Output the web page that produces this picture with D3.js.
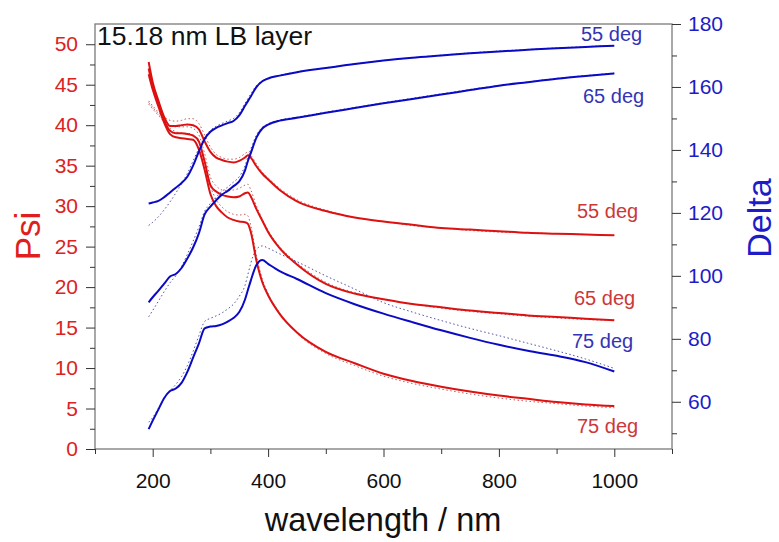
<!DOCTYPE html>
<html>

<head>
  <title>15.18 nm LB layer</title>
  <script type="text/javascript" src="https://cdn.jsdelivr.net/npm/d3@7"></script>
  <style>
    body {
      margin: 0;
      background-color: white;
    }
    text {
      font-family: "Liberation Sans", Arial, sans-serif;
    }
  </style>
</head>

<body>
  <script type="text/javascript">

    // wavelength in nm (shared by all curves)
    const wavelength = [193, 200, 210, 220, 230, 240, 250, 260, 270, 280, 290, 300, 310, 320, 330, 340, 350, 360, 365, 370,
      380, 390, 400, 420, 450, 500, 550, 600, 650, 700, 750, 800, 850, 900, 950, 1000];

    // measured Psi (deg)
    const psi55 = [47.8, 45.3, 43.0, 41.0, 39.9, 39.9, 40.0, 40.1, 40.0, 39.5, 38.0, 36.7, 36.0, 35.7, 35.5, 35.4, 35.6, 36.0, 36.3, 36.0,
      34.9, 34.0, 33.3, 32.0, 30.6, 29.4, 28.6, 28.1, 27.7, 27.3, 27.1, 26.9, 26.7, 26.6, 26.5, 26.4];
    const psi65 = [47.0, 44.8, 42.6, 40.6, 39.3, 39.0, 39.0, 38.9, 38.7, 38.0, 35.5, 32.6, 31.8, 31.4, 31.2, 31.1, 31.2, 31.6, 31.7, 31.2,
      29.6, 28.2, 26.8, 24.8, 22.8, 20.4, 19.2, 18.5, 17.9, 17.5, 17.1, 16.8, 16.5, 16.3, 16.1, 15.9];
    const psi75 = [46.3, 44.4, 42.3, 40.3, 38.9, 38.5, 38.4, 38.3, 38.2, 37.0, 34.5, 31.5, 30.0, 29.2, 28.6, 28.3, 28.1, 28.0, 27.8, 26.8,
      23.2, 20.6, 19.0, 16.7, 14.4, 12.0, 10.6, 9.3, 8.4, 7.7, 7.1, 6.6, 6.2, 5.8, 5.5, 5.3];

    // measured Delta (deg)
    const delta55 = [123.0, 123.3, 123.8, 125.0, 126.5, 128.0, 129.5, 131.5, 135.0, 139.5, 143.5, 145.8, 147.0, 147.8, 148.5, 149.2, 151.0, 154.0, 155.5, 157.0,
      160.0, 161.8, 162.7, 163.6, 164.7, 166.0, 167.3, 168.4, 169.3, 170.0, 170.7, 171.3, 171.8, 172.3, 172.7, 173.1];
    const delta65 = [91.6, 93.2, 95.3, 97.5, 99.8, 100.6, 102.5, 105.5, 109.0, 113.5, 119.5, 122.0, 124.0, 125.8, 127.0, 128.5, 130.0, 133.5, 136.5, 139.0,
      144.0, 146.8, 148.0, 149.3, 150.2, 151.8, 153.3, 154.8, 156.2, 157.6, 159.0, 160.4, 161.5, 162.6, 163.5, 164.3];
    const delta75 = [51.3, 54.0, 57.6, 61.2, 63.4, 64.2, 66.0, 69.5, 74.0, 78.5, 83.3, 83.9, 84.1, 84.6, 85.5, 86.6, 88.5, 92.5, 95.5, 98.5,
      103.5, 105.0, 103.8, 101.5, 99.0, 94.5, 91.0, 88.0, 85.3, 82.7, 80.3, 78.1, 76.2, 74.6, 72.6, 69.6];

    // model fits (dotted)
    const psi55Fit = [43.0, 42.4, 41.6, 41.0, 40.6, 40.5, 40.6, 40.8, 40.8, 40.2, 38.8, 37.3, 36.4, 36.0, 35.8, 35.8, 36.0, 36.5, 36.7, 36.3,
      35.2, 34.2, 33.5, 32.2, 30.8, 29.5, 28.6, 28.1, 27.6, 27.3, 27.0, 26.8, 26.7, 26.6, 26.5, 26.4];
    const psi65Fit = [42.8, 42.2, 41.4, 40.6, 40.0, 39.8, 39.8, 39.8, 39.6, 38.8, 36.5, 33.6, 32.5, 32.0, 31.9, 32.0, 32.2, 32.6, 32.7, 32.0,
      30.0, 28.4, 27.0, 25.0, 23.0, 20.6, 19.3, 18.5, 17.9, 17.4, 17.0, 16.7, 16.4, 16.2, 16.0, 15.9];
    const psi75Fit = [42.6, 42.0, 41.2, 40.4, 39.6, 39.2, 39.0, 39.0, 38.8, 37.8, 35.5, 32.5, 30.8, 29.9, 29.3, 29.0, 28.9, 29.0, 28.8, 27.6,
      23.8, 21.0, 19.2, 16.8, 14.3, 11.8, 10.3, 9.0, 8.1, 7.4, 6.8, 6.3, 5.9, 5.6, 5.3, 5.1];
    const delta55Fit = [116.0, 117.0, 118.8, 121.0, 123.5, 126.3, 129.3, 132.5, 136.5, 140.5, 144.0, 146.2, 147.5, 148.4, 149.2, 150.0, 151.8, 154.8, 156.3, 157.8,
      160.5, 162.0, 162.8, 163.7, 164.8, 166.1, 167.3, 168.4, 169.3, 170.1, 170.8, 171.4, 171.9, 172.4, 172.8, 173.2];
    const delta65Fit = [87.0, 89.0, 92.0, 95.0, 97.8, 100.0, 103.0, 106.8, 111.0, 115.5, 120.5, 123.0, 125.0, 126.8, 128.2, 129.8, 131.5, 135.0, 137.8, 140.3,
      144.8, 147.2, 148.3, 149.5, 150.4, 152.0, 153.5, 155.0, 156.4, 157.8, 159.2, 160.5, 161.6, 162.7, 163.6, 164.4];
    const delta75Fit = [53.5, 55.0, 58.0, 61.0, 63.5, 65.5, 68.0, 71.5, 76.0, 81.0, 85.5, 86.5, 87.3, 88.2, 89.5, 91.0, 93.5, 97.0, 100.5, 104.0,
      108.5, 109.5, 108.8, 107.0, 104.5, 100.0, 95.8, 91.5, 88.5, 85.8, 83.3, 81.0, 78.6, 76.2, 73.6, 70.6];

    // tick values
    const xTicks = [200, 400, 600, 800, 1000];
    const xMinor = [100, 300, 500, 700, 900, 1100];
    const psiTicks = [0, 5, 10, 15, 20, 25, 30, 35, 40, 45, 50];
    const psiMinor = [2.5, 7.5, 12.5, 17.5, 22.5, 27.5, 32.5, 37.5, 42.5, 47.5];
    const deltaTicks = [60, 80, 100, 120, 140, 160, 180];
    const deltaMinor = [50, 70, 90, 110, 130, 150, 170];

    const red = "#dd1111";
    const blue = "#0a0ac4";

    const w = 779;
    const h = 542;
    const plotL = 95, plotR = 672, plotT = 24, plotB = 449;

    const xScale = d3.scaleLinear().domain([100, 1100]).range([plotL, plotR]);
    const yPsi = d3.scaleLinear().domain([0, 52.5]).range([plotB, plotT]);
    const yDelta = d3.scaleLinear().domain([45, 180]).range([plotB, plotT]);

    const svg = d3.select("body")
      .append("svg")
      .attr("width", w)
      .attr("height", h)
      .style("background", "white");

    // frame
    svg.append("rect")
      .attr("x", plotL)
      .attr("y", plotT)
      .attr("width", plotR - plotL)
      .attr("height", plotB - plotT)
      .attr("fill", "none")
      .attr("stroke", "#7a7a7a")
      .attr("stroke-width", 1.3);

    // axes
    function styleAxis(g, color) {
      g.select(".domain").remove();
      g.selectAll(".tick line").attr("stroke", "#333");
      g.selectAll("text")
        .attr("fill", color)
        .style("font-size", "21px");
    }

    svg.append("g")
      .attr("transform", "translate(" + plotL + ",0)")
      .call(d3.axisLeft(yPsi).tickValues(psiTicks).tickSize(9).tickPadding(8))
      .call(styleAxis, "#dd2222");
    svg.append("g")
      .attr("transform", "translate(" + plotL + ",0)")
      .call(d3.axisLeft(yPsi).tickValues(psiMinor).tickSize(5).tickFormat(""))
      .call(styleAxis, "#dd2222");

    svg.append("g")
      .attr("transform", "translate(" + plotR + ",0)")
      .call(d3.axisRight(yDelta).tickValues(deltaTicks).tickSize(9).tickPadding(7))
      .call(styleAxis, "#1c1cc8");
    svg.append("g")
      .attr("transform", "translate(" + plotR + ",0)")
      .call(d3.axisRight(yDelta).tickValues(deltaMinor).tickSize(5).tickFormat(""))
      .call(styleAxis, "#1c1cc8");

    svg.append("g")
      .attr("transform", "translate(0," + plotB + ")")
      .call(d3.axisBottom(xScale).tickValues(xTicks).tickFormat(d3.format("d")).tickSize(8).tickPadding(16))
      .call(styleAxis, "#111");
    svg.append("g")
      .attr("transform", "translate(0," + plotB + ")")
      .call(d3.axisBottom(xScale).tickValues(xMinor).tickSize(5).tickFormat(""))
      .call(styleAxis, "#111");

    // curves
    function lineFor(yScale) {
      return d3.line()
        .x(function (d, i) { return xScale(wavelength[i]); })
        .y(function (d) { return yScale(d); })
        .curve(d3.curveMonotoneX);
    }

    const fits = [
      { values: psi55Fit, scale: yPsi, color: "#c45a5a" },
      { values: psi65Fit, scale: yPsi, color: "#c45a5a" },
      { values: psi75Fit, scale: yPsi, color: "#c45a5a" },
      { values: delta55Fit, scale: yDelta, color: "#5050a8" },
      { values: delta65Fit, scale: yDelta, color: "#5050a8" },
      { values: delta75Fit, scale: yDelta, color: "#5050a8" }
    ];
    const measured = [
      { values: psi55, scale: yPsi, color: red },
      { values: psi65, scale: yPsi, color: red },
      { values: psi75, scale: yPsi, color: red },
      { values: delta55, scale: yDelta, color: blue },
      { values: delta65, scale: yDelta, color: blue },
      { values: delta75, scale: yDelta, color: blue }
    ];

    svg.selectAll("path.fit")
      .data(fits)
      .enter()
      .append("path")
      .attr("class", "fit")
      .attr("d", function (d) { return lineFor(d.scale)(d.values); })
      .attr("fill", "none")
      .attr("stroke", function (d) { return d.color; })
      .attr("stroke-width", 1)
      .attr("stroke-dasharray", "1.5,2.5");

    svg.selectAll("path.meas")
      .data(measured)
      .enter()
      .append("path")
      .attr("class", "meas")
      .attr("d", function (d) { return lineFor(d.scale)(d.values); })
      .attr("fill", "none")
      .attr("stroke", function (d) { return d.color; })
      .attr("stroke-width", 2);

    // angle labels
    const labels = [
      { text: "55 deg", x: 581, y: 41, color: "#3434b4" },
      { text: "65 deg", x: 583, y: 103, color: "#3434b4" },
      { text: "55 deg", x: 577, y: 218, color: "#cc3838" },
      { text: "65 deg", x: 574, y: 305, color: "#cc3838" },
      { text: "75 deg", x: 572, y: 348, color: "#3434b4" },
      { text: "75 deg", x: 577, y: 433, color: "#cc3838" }
    ];
    svg.selectAll("text.ang")
      .data(labels)
      .enter()
      .append("text")
      .attr("class", "ang")
      .attr("x", function (d) { return d.x; })
      .attr("y", function (d) { return d.y; })
      .attr("fill", function (d) { return d.color; })
      .style("font-size", "20px")
      .text(function (d) { return d.text; });

    // title
    svg.append("text")
      .attr("x", 97)
      .attr("y", 45)
      .attr("fill", "#111")
      .style("font-size", "26.5px")
      .text("15.18 nm LB layer");

    // axis titles
    svg.append("text")
      .attr("x", 383)
      .attr("y", 531)
      .attr("text-anchor", "middle")
      .attr("fill", "#111")
      .style("font-size", "32.5px")
      .text("wavelength / nm");

    svg.append("text")
      .attr("transform", "translate(40,236) rotate(-90)")
      .attr("text-anchor", "middle")
      .attr("fill", "#e01e1e")
      .style("font-size", "35px")
      .text("Psi");

    svg.append("text")
      .attr("transform", "translate(771,218) rotate(-90)")
      .attr("text-anchor", "middle")
      .attr("fill", "#1c1cc8")
      .style("font-size", "34px")
      .text("Delta");

  </script>
</body>

</html>
